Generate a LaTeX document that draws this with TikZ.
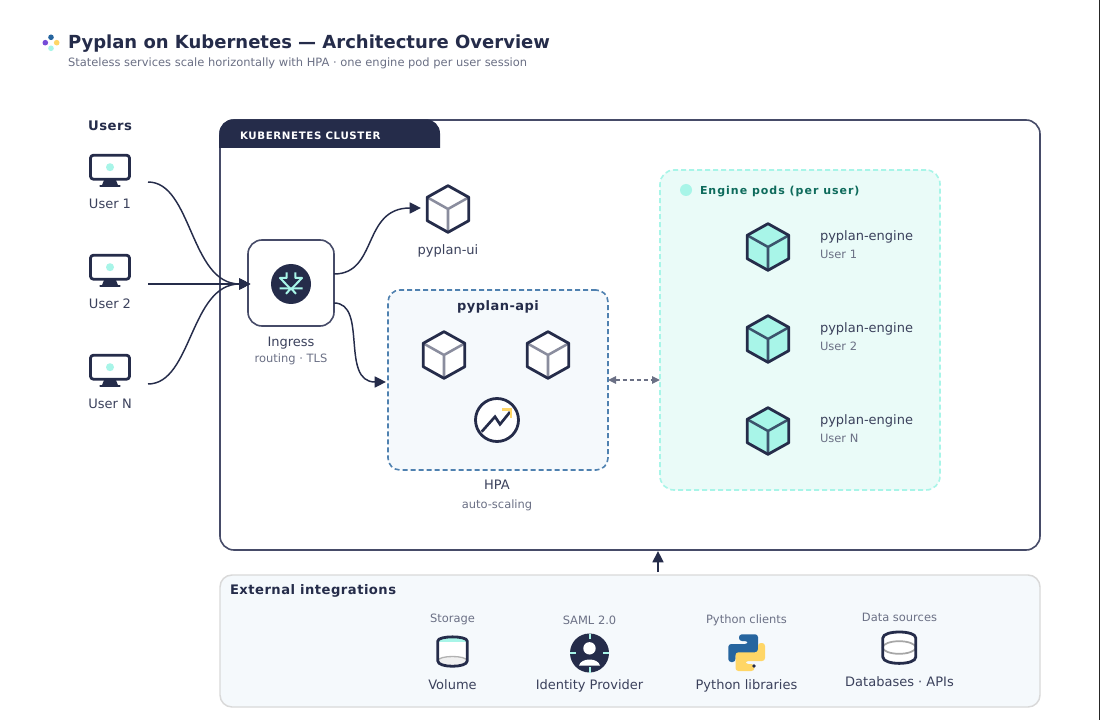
\documentclass[tikz,border=0pt]{standalone}
\usepackage{fontspec}
\usetikzlibrary{arrows.meta}
\setmainfont{DejaVu Sans}
\newfontfamily\spacedA[LetterSpace=6]{DejaVu Sans}
\newfontfamily\spacedB[LetterSpace=3.6]{DejaVu Sans}
\newfontfamily\spacedC[LetterSpace=9]{DejaVu Sans}
\definecolor{ink}{HTML}{252C4A}
\definecolor{edge}{HTML}{464B68}
\definecolor{subtle}{HTML}{6B7085}
\definecolor{mint}{HTML}{A8F5E8}
\definecolor{steel}{HTML}{8A8D9E}
\definecolor{pale}{HTML}{F5F9FC}
\definecolor{blueish}{HTML}{4F81B0}
\definecolor{pyblue}{HTML}{26659F}
\definecolor{pyyel}{HTML}{FFD666}
\definecolor{enginebg}{HTML}{EAFBF8}
\definecolor{enginetxt}{HTML}{0E6B5C}
\tikzset{
  txt/.style={inner sep=0pt,outer sep=0pt,anchor=base},
  ltxt/.style={inner sep=0pt,outer sep=0pt,anchor=base west},
  lab/.style={txt,text=ink!90!white,font=\fontsize{9.75pt}{12pt}\selectfont},
  sub/.style={txt,text=subtle,font=\fontsize{8.6pt}{10pt}\selectfont},
  boxn/.style={inner sep=0pt,outer sep=0pt,rectangle},
  conn/.style={draw=ink,line width=1.1pt,-{Triangle[length=8.5pt,width=8.25pt]}},
  bidir/.style={draw=subtle,line width=1.1pt,dash pattern=on 3pt off 2.25pt,{Triangle[length=6pt,width=5.5pt]}-{Triangle[length=6pt,width=5.5pt]}},
  dk/.style={draw=ink,line width=2.1pt,line join=round,line cap=round},
}
\newcommand{\cubeicon}[3]{% center, fill, inner colour
  \begin{scope}[shift={(#1)}]
    \fill[#2] (0,-23.3)--(20.8,-11.7)--(20.8,11.7)--(0,23.3)--(-20.8,11.7)--(-20.8,-11.7)--cycle;
    \draw[#3,line width=1.9pt,line cap=round] (-20.8,-11.7)--(0,0)--(20.8,-11.7) (0,0)--(0,23.3);
    \draw[dk] (0,-23.3)--(20.8,-11.7)--(20.8,11.7)--(0,23.3)--(-20.8,11.7)--(-20.8,-11.7)--cycle;
  \end{scope}
}
\newcommand{\monitor}[1]{%
  \begin{scope}[shift={(#1)}]
    \draw[dk,fill=white,rounded corners=2.2pt] (-19.5,-12) rectangle (19.5,12);
    \fill[mint] (0,0) circle (4);
    \fill[ink] (-6,13)--(6,13)--(8,18)--(-8,18)--cycle;
    \draw[ink,line width=2pt,line cap=round] (-9.5,18.8)--(9.5,18.8);
  \end{scope}
}
\begin{document}
\begin{tikzpicture}[x=0.75pt,y=-0.75pt]
\useasboundingbox (0,0) rectangle (1100,720);
\fill[white] (0,0) rectangle (1100,720);
\fill[black!85] (1099,0) rectangle (1100,720);

% logo and heading
\fill[pyblue] (51,37.3) circle (2.8);
\fill[blue!55!violet!70!white] (45.3,42.7) circle (2.8);
\fill[pyyel] (56.7,42.7) circle (2.8);
\fill[mint] (51,48.3) circle (2.8);
\node[ltxt,text=ink,font=\fontsize{13.5pt}{16pt}\selectfont\bfseries] (title) at (68,48.5) {Pyplan on Kubernetes — Architecture Overview};
\node[ltxt,text=subtle,font=\fontsize{8.6pt}{10pt}\selectfont] (subtitle) at (68,66.6) {Stateless services scale horizontally with HPA · one engine pod per user session};

% cluster
\node[boxn,draw=edge,line width=1.2pt,fill=white,rounded corners=10.5pt,minimum width=615pt,minimum height=322.5pt] (cluster) at (630,335) {};
\fill[ink,rounded corners=10.5pt] (219.3,148)--(219.3,119.3)--(440,119.3)--(440,148);
\fill[ink] (219.3,135) rectangle (440,148);
\node[ltxt,text=white,font=\fontsize{7.7pt}{10pt}\selectfont\spacedA\bfseries] (clusterlabel) at (240,139.6) {KUBERNETES CLUSTER};

% users
\node[txt,text=ink,font=\fontsize{9.9pt}{12pt}\selectfont\spacedB\bfseries] (usershead) at (110,130.5) {Users};
\monitor{110,167.2}\monitor{110,267.2}\monitor{110,367.2}
\node[lab] (u1) at (110,208.6) {User 1};
\node[lab] (u2) at (110,308.6) {User 2};
\node[lab] (un) at (110,408.3) {User N};
\coordinate (u1out) at (148,182);
\coordinate (u2out) at (148,284);
\coordinate (unout) at (148,384);

% ingress
\node[boxn,draw=edge,line width=1.2pt,fill=white,rounded corners=10.5pt,minimum width=64.5pt,minimum height=64.5pt] (ingress) at (291,283) {};
\fill[ink] (291,284) circle (20);
\draw[mint,line width=1.5pt,line join=round] (286.7,272.5)--(286.7,278)--(280,278)--(290,288.3) (295.3,272.5)--(295.3,278)--(302,278)--(292,288.3);
\draw[mint,line width=1.5pt] (279.5,288.3)--(302.5,288.3) (291,288.3)--(286,293.8) (291,288.3)--(296,293.8);
\node[lab] (inglab) at (291,347) {Ingress};
\node[sub] (ingsub) at (291,362.5) {routing · TLS};
\coordinate (ingin) at (250.5,284);
\coordinate (ingup) at (334,274);
\coordinate (ingdn) at (334,303);

% ui
\cubeicon{448,209}{white}{steel}
\coordinate (uiin) at (421,208);
\node[lab] (uilab) at (448,254.5) {pyplan-ui};

% api
\node[boxn,draw=blueish,line width=1.2pt,fill=pale,rounded corners=9pt,dash pattern=on 3.75pt off 2.25pt,minimum width=165pt,minimum height=135pt] (api) at (498,380) {};
\node[txt,text=ink,font=\fontsize{9.75pt}{12pt}\selectfont\spacedB\bfseries] (apilab) at (498,310.5) {pyplan-api};
\cubeicon{444,355}{white}{steel}
\cubeicon{548,355}{white}{steel}
\draw[dk,fill=white] (497,420) circle (21.5);
\draw[ink,line width=2pt,line join=miter] (481.7,431.7)--(495,416.7)--(500,424.3)--(510,412);
\draw[pyyel,line width=2pt] (502,409.5)--(511,409.5)--(511,418);
\node[lab] (hpalab) at (497,489.5) {HPA};
\node[sub] (hpasub) at (497,508) {auto-scaling};
\coordinate (apiin) at (386,382);
\coordinate (apir) at (608,380);

% engines
\node[boxn,draw=mint,line width=1.2pt,fill=enginebg,rounded corners=10.5pt,dash pattern=on 3.75pt off 2.25pt,minimum width=210pt,minimum height=240pt] (engines) at (800,330) {};
\fill[mint] (686,190) circle (6);
\node[ltxt,text=enginetxt,font=\fontsize{8.25pt}{10pt}\selectfont\spacedC\bfseries] (enginelab) at (700,194.5) {Engine pods (per user)};
\cubeicon{768,247}{mint}{edge!85!teal}
\cubeicon{768,339}{mint}{edge!85!teal}
\cubeicon{768,431}{mint}{edge!85!teal}
\node[ltxt,text=ink!90!white,font=\fontsize{9.75pt}{12pt}\selectfont] (e1) at (820,240.5) {pyplan-engine};
\node[ltxt,text=subtle,font=\fontsize{8.6pt}{10pt}\selectfont] (e1s) at (820,258.4) {User 1};
\node[ltxt,text=ink!90!white,font=\fontsize{9.75pt}{12pt}\selectfont] (e2) at (820,332.5) {pyplan-engine};
\node[ltxt,text=subtle,font=\fontsize{8.6pt}{10pt}\selectfont] (e2s) at (820,350.4) {User 2};
\node[ltxt,text=ink!90!white,font=\fontsize{9.75pt}{12pt}\selectfont] (e3) at (820,424.5) {pyplan-engine};
\node[ltxt,text=subtle,font=\fontsize{8.6pt}{10pt}\selectfont] (e3s) at (820,442.4) {User N};
\coordinate (engl) at (660,380);

% connectors
\draw[conn] (u1out) .. controls (192,182) and (190,284) .. (ingin);
\draw[conn] (u2out) -- (ingin);
\draw[conn] (unout) .. controls (192,384) and (190,284) .. (ingin);
\draw[conn] (ingup) .. controls (378,274) and (362,208) .. (uiin);
\draw[conn] (ingdn) .. controls (368,303) and (340,382) .. (apiin);
\draw[bidir] (apir) -- (engl);

% external
\node[boxn,draw=black!15,line width=1.1pt,fill=pale,rounded corners=9pt,minimum width=615pt,minimum height=99pt] (ext) at (630,641) {};
\node[ltxt,text=ink,font=\fontsize{9.85pt}{12pt}\selectfont\spacedB\bfseries] (extlab) at (230,594) {External integrations};
\coordinate (extup) at (658,572);
\coordinate (clusdn) at (658,551);
\draw[conn] (extup) -- (clusdn);

% volume
\node[sub] (storage) at (452.5,622) {Storage};
\fill[white] (437.8,641) .. controls (437.8,635.5) and (467.2,635.5) .. (467.2,641) -- (467.2,661) .. controls (467.2,668) and (437.8,668) .. (437.8,661) -- cycle;
\fill[mint] (437.8,641.5) .. controls (437.8,635.5) and (467.2,635.5) .. (467.2,641.5) -- cycle;
\fill[black!6] (437.8,661) .. controls (437.8,655) and (467.2,655) .. (467.2,661) .. controls (467.2,668) and (437.8,668) .. (437.8,661) -- cycle;
\draw[black!30,line width=1pt] (437.8,661) .. controls (437.8,655) and (467.2,655) .. (467.2,661);
\draw[dk] (437.8,641) .. controls (437.8,635.5) and (467.2,635.5) .. (467.2,641) -- (467.2,661) .. controls (467.2,668) and (437.8,668) .. (437.8,661) -- cycle;
\node[lab] (vol) at (452.5,689) {Volume};

% identity provider
\node[sub] (saml) at (589.5,624) {SAML 2.0};
\fill[ink] (589.5,653) circle (19.5);
\draw[mint,line width=1.5pt] (589.5,633.5)--(589.5,639) (589.5,667)--(589.5,672.5) (570,653)--(576,653) (603,653)--(609,653);
\fill[white] (589.5,648.3) circle (6.2);
\fill[white] (579,665.5) .. controls (581,657.5) and (598,657.5) .. (600,665.5) -- cycle;
\node[lab] (idp) at (589.5,689) {Identity Provider};

% python
\node[sub] (pyc) at (746.5,623) {Python clients};
\fill[pyblue,rounded corners=2.2pt] (739,634.3)--(758,634.3)--(758,653)--(735.5,653)--(735.5,662)--(728.3,662)--(728.3,644)--(748,644)--(748,641)--(739,641)--cycle;
\fill[pyyel,rounded corners=2.2pt] (754.4,671)--(735.5,671)--(735.5,652.3)--(758,652.3)--(758,643)--(765,643)--(765,661)--(745.4,661)--(745.4,664)--(754.4,664)--cycle;
\fill[ink] (754,666) circle (1.8);
\node[lab] (pyl) at (746.5,689) {Python libraries};

% data
\node[sub] (data) at (899.5,621) {Data sources};
\fill[white] (882.8,638) .. controls (882.8,630) and (915.8,630) .. (915.8,638) -- (915.8,657) .. controls (915.8,665.5) and (882.8,665.5) .. (882.8,657) -- cycle;
\draw[black!35,line width=1.3pt] (899.2,647.5) ellipse (16.5 and 6.3);
\draw[dk] (882.8,638) .. controls (882.8,630) and (915.8,630) .. (915.8,638) -- (915.8,657) .. controls (915.8,665.5) and (882.8,665.5) .. (882.8,657) -- cycle;
\node[lab] (db) at (899.5,686) {Databases · APIs};
\end{tikzpicture}
\end{document}
